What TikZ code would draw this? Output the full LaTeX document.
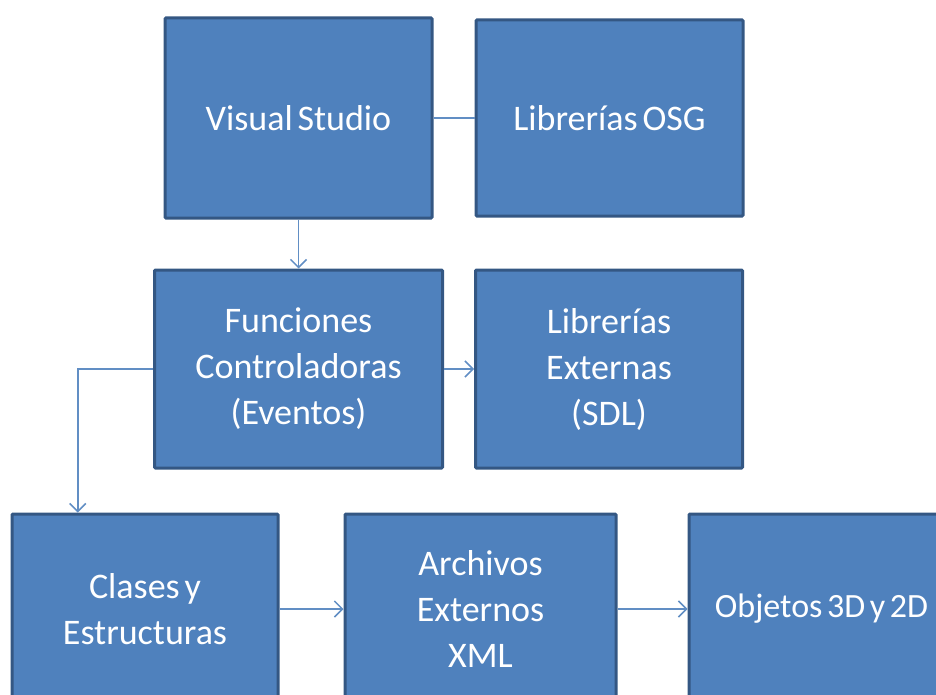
\documentclass[tikz,border=0pt]{standalone}
\usepackage{fontspec}
\setmainfont{Carlito}[WordSpace=0.6]
\usetikzlibrary{arrows.meta, positioning, calc}
\definecolor{boxfill}{HTML}{4F81BD}
\definecolor{boxline}{HTML}{345783}

\begin{document}
\begin{tikzpicture}[
			x=1pt, y=1pt,
			node distance=49pt and 30pt,
			every node/.style={draw=boxline, rectangle, rounded corners=1pt, line width=3pt, fill=boxfill, text=white, align=center, font=\fontsize{36}{46}\selectfont},
			arrow/.style={-{Straight Barb[length=8pt,width=16pt]}, draw=boxfill!90!white, line width=1.5pt},
			link/.style={draw=boxfill!90!white, line width=1.5pt}
			]
			\clip (0,0) rectangle (936,-695);
			
			% Nodes
			\node (vs) [minimum width=267pt, minimum height=200pt] at (298.5,-118) {Visual Studio};
			\node (osg) [minimum width=267pt, minimum height=196pt, right=41pt of vs] {Librerías OSG};
			\node (fun) [minimum width=288pt, minimum height=198pt, below=of vs] {Funciones\\Controladoras\\(Eventos)};
			\node (ext) [minimum width=267pt, minimum height=198pt, right=of fun] {Librerías\\Externas\\(SDL)};
			\node (cla) [minimum width=266pt, minimum height=190pt] at (145,-609) {Clases y\\Estructuras};
			\node (xml) [minimum width=271pt, minimum height=190pt, right=64pt of cla] {Archivos\\Externos\\XML};
			\node (obj) [minimum width=265pt, minimum height=190pt, right=70pt of xml, font=\fontsize{34}{46}\selectfont] {Objetos 3D y 2D};
			
			% Connections
			\draw [link] (vs) -- (osg);
			\draw [arrow] (vs) -- (fun);
			\draw [arrow] (fun) -- (ext);
			\draw [arrow] (fun.west) -| ($(cla.north west)!0.25!(cla.north east)$);
			\draw [arrow] (cla) -- (xml);
			\draw [arrow] (xml) -- (obj);
			
		\end{tikzpicture}
\end{document}
